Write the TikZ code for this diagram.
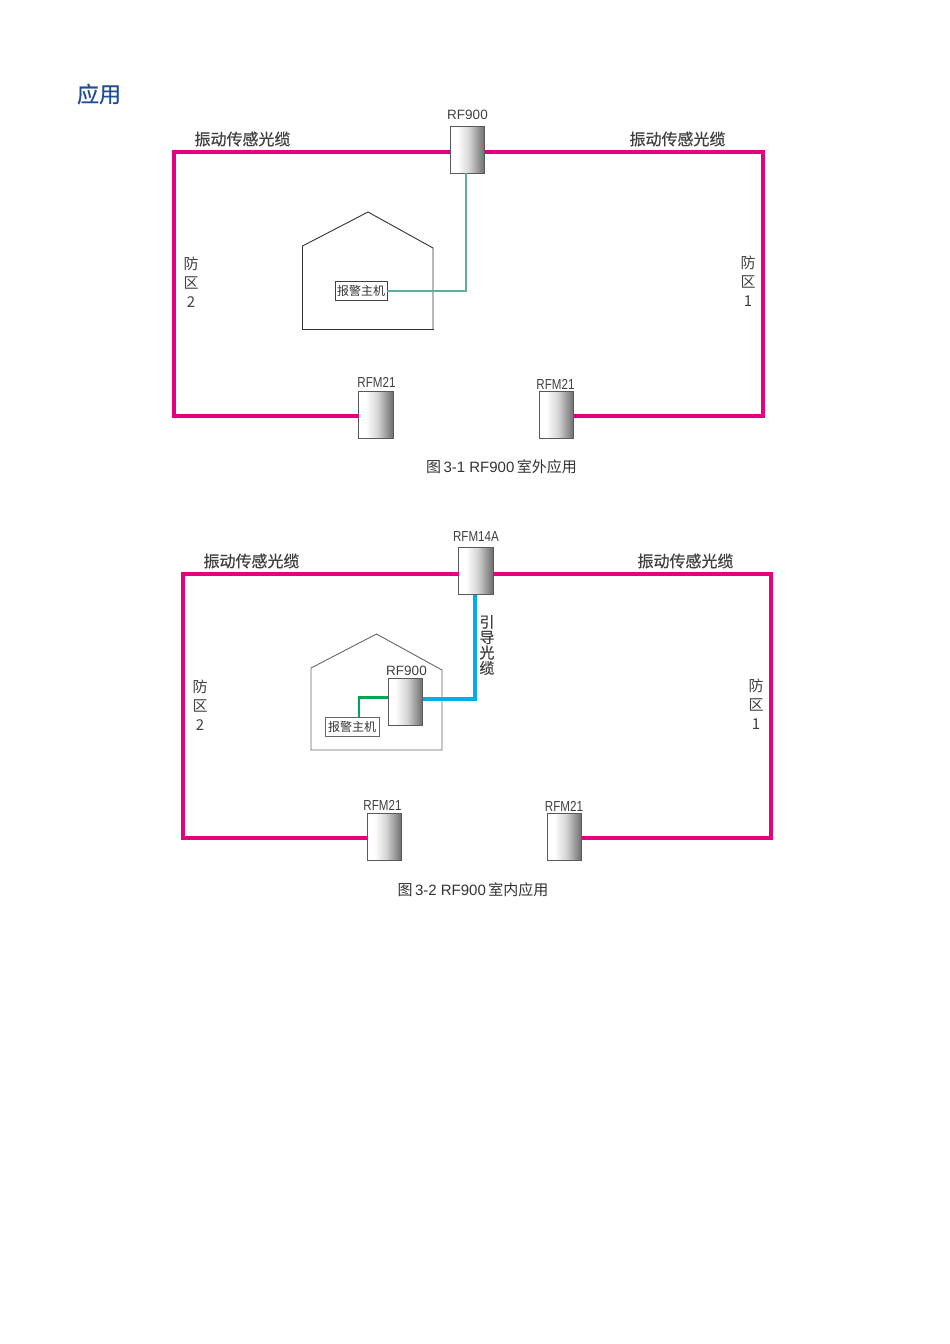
\documentclass[tikz,border=0pt]{standalone}
\usepackage{fontspec}
\setmainfont{Liberation Sans}
\newfontfamily\cjk{Noto Sans CJK SC}
\newfontfamily\cjkheavy[FakeBold=0.5]{Noto Sans CJK SC}
\newfontfamily\narrowsans[FakeStretch=0.8]{Liberation Sans}
\definecolor{fibre}{HTML}{E4007F}
\definecolor{leadin}{HTML}{00AEEF}
\definecolor{paleline}{HTML}{5FAF94}
\definecolor{darkline}{HTML}{00A651}
\definecolor{headblue}{HTML}{1F4E96}
\pgfdeclarehorizontalshading{devshade}{100bp}{color(0bp)=(white); color(35bp)=(white); color(52bp)=(black!16); color(75bp)=(black!58); color(100bp)=(black!58)}
\tikzset{
  devbox/.style={draw=black!65,line width=0.9pt,shading=devshade,
    minimum width=34.5pt,minimum height=47pt,inner sep=0pt,outer sep=0pt},
  alarmbox/.style={draw=black!75,line width=0.8pt,fill=white,text=black!80,inner sep=0pt,outer sep=0pt,
    minimum height=19pt,font=\cjk\fontsize{12}{12}\selectfont},
  devlabel/.style={text=black!75,inner sep=0pt,font=\fontsize{13.5}{14}\selectfont},
  narrowlabel/.style={text=black!75,inner sep=0pt,font=\narrowsans\fontsize{14.5}{15}\selectfont},
  cablelabel/.style={text=black!75,inner sep=0pt,font=\cjkheavy\fontsize{16}{16}\selectfont},
  zonelabel/.style={text=black!75,inner sep=0pt,align=center,font=\cjk\fontsize{15}{19}\selectfont},
  caption/.style={text=black!80,inner sep=0pt,font=\fontsize{15}{16}\selectfont},
  fibreline/.style={draw=fibre,line width=3.6pt,line join=miter},
}
\begin{document}
\begin{tikzpicture}[x=1pt,y=-1pt]
   \useasboundingbox[fill=white] (0,0) rectangle (950,1344);
   \node[text=headblue,inner sep=0pt,font=\cjkheavy\fontsize{22}{22}\selectfont] (heading) at (99,94) {应用};
   % outdoor
   \begin{scope}
    \draw[black!80,line width=0.9pt] (302.5,329) -- (302.5,246) -- (368,212) -- (433,248) -- (433,329);
    \draw[black!80,line width=1pt] (301.5,329) -- (434,329);
    \node[devbox] (topbox) at (467.5,149.5) {};
    \node[devbox] (leftbox) at (376,415) {};
    \node[devbox] (rightbox) at (556.5,415) {};
    \node[alarmbox,minimum width=52pt] (alarm) at (361,290.5) {报警主机};
    \coordinate (tl) at (174,152);
    \coordinate (tr) at (763,152);
    \coordinate (bl) at (174,416);
    \coordinate (br) at (763,416);
    \coordinate (turn) at (466,291);
    \draw[fibreline] (tl -| topbox.west) -- (tl) -- (bl) -- (bl -| leftbox.west);
    \draw[fibreline] (tr -| topbox.east) -- (tr) -- (br) -- (br -| rightbox.east);
    \draw[paleline,line width=1.5pt] (alarm.east |- turn) -- (turn) -- (turn |- topbox.south);
    \node[devlabel] (toplabel) at (467.5,115) {RF900};
    \node[narrowlabel] (leftlabel) at (376.5,382) {RFM21};
    \node[narrowlabel] (rightlabel) at (555.5,384) {RFM21};
    \node[cablelabel] (cableleft) at (242.5,139) {振动传感光缆};
    \node[cablelabel] (cableright) at (677.5,139) {振动传感光缆};
    \node[zonelabel] (zonetwo) at (191,282) {防\\区\\2};
    \node[zonelabel] (zoneone) at (748,281) {防\\区\\1};
    \node[caption] (capone) at (501.5,467) {{\cjk 图}\,3-1 RF900\,{\cjk 室外应用}};
   \end{scope}
   % indoor
   \begin{scope}
    \draw[black!60,line width=0.9pt] (311,750) -- (311,668) -- (376.5,634) -- (442,670) -- (442,750) -- cycle;
    \node[devbox] (topbox) at (476,571) {};
    \node[devbox] (leftbox) at (384.5,837) {};
    \node[devbox] (rightbox) at (564.5,837) {};
    \node[devbox] (hostbox) at (405.5,701.5) {};
    \node[alarmbox,minimum width=54pt,draw=black!60] (alarm) at (352,726.5) {报警主机};
    \coordinate (tl) at (183,574);
    \coordinate (tr) at (771,574);
    \coordinate (bl) at (183,838);
    \coordinate (br) at (771,838);
    \coordinate (greenturn) at (359,697.5);
    \coordinate (blueturn) at (475,699);
    \draw[fibreline] (tl -| topbox.west) -- (tl) -- (bl) -- (bl -| leftbox.west);
    \draw[fibreline] (tr -| topbox.east) -- (tr) -- (br) -- (br -| rightbox.east);
    \draw[darkline,line width=2.4pt] (greenturn |- alarm.north) -- (greenturn) -- (greenturn -| hostbox.west);
    \draw[leadin,line width=3.6pt] (blueturn -| hostbox.east) -- (blueturn) -- (blueturn |- topbox.south);
    \node[narrowlabel] (toplabel) at (476,537) {RFM14A};
    \node[devlabel] (hostlabel) at (406.5,671) {RF900};
    \node[narrowlabel] (leftlabel) at (382.5,805) {RFM21};
    \node[narrowlabel] (rightlabel) at (564,806) {RFM21};
    \node[cablelabel] (cableleft) at (251.5,561) {振动传感光缆};
    \node[cablelabel] (cableright) at (685.5,561) {振动传感光缆};
    \node[zonelabel] (zonetwo) at (200,705) {防\\区\\2};
    \node[zonelabel] (zoneone) at (756,704) {防\\区\\1};
    \node[zonelabel,font=\cjkheavy\fontsize{15}{15.4}\selectfont] (leadlabel) at (487,645) {引\\导\\光\\缆};
    \node[caption] (captwo) at (473,890) {{\cjk 图}\,3-2 RF900\,{\cjk 室内应用}};
   \end{scope}
\end{tikzpicture}
\end{document}
